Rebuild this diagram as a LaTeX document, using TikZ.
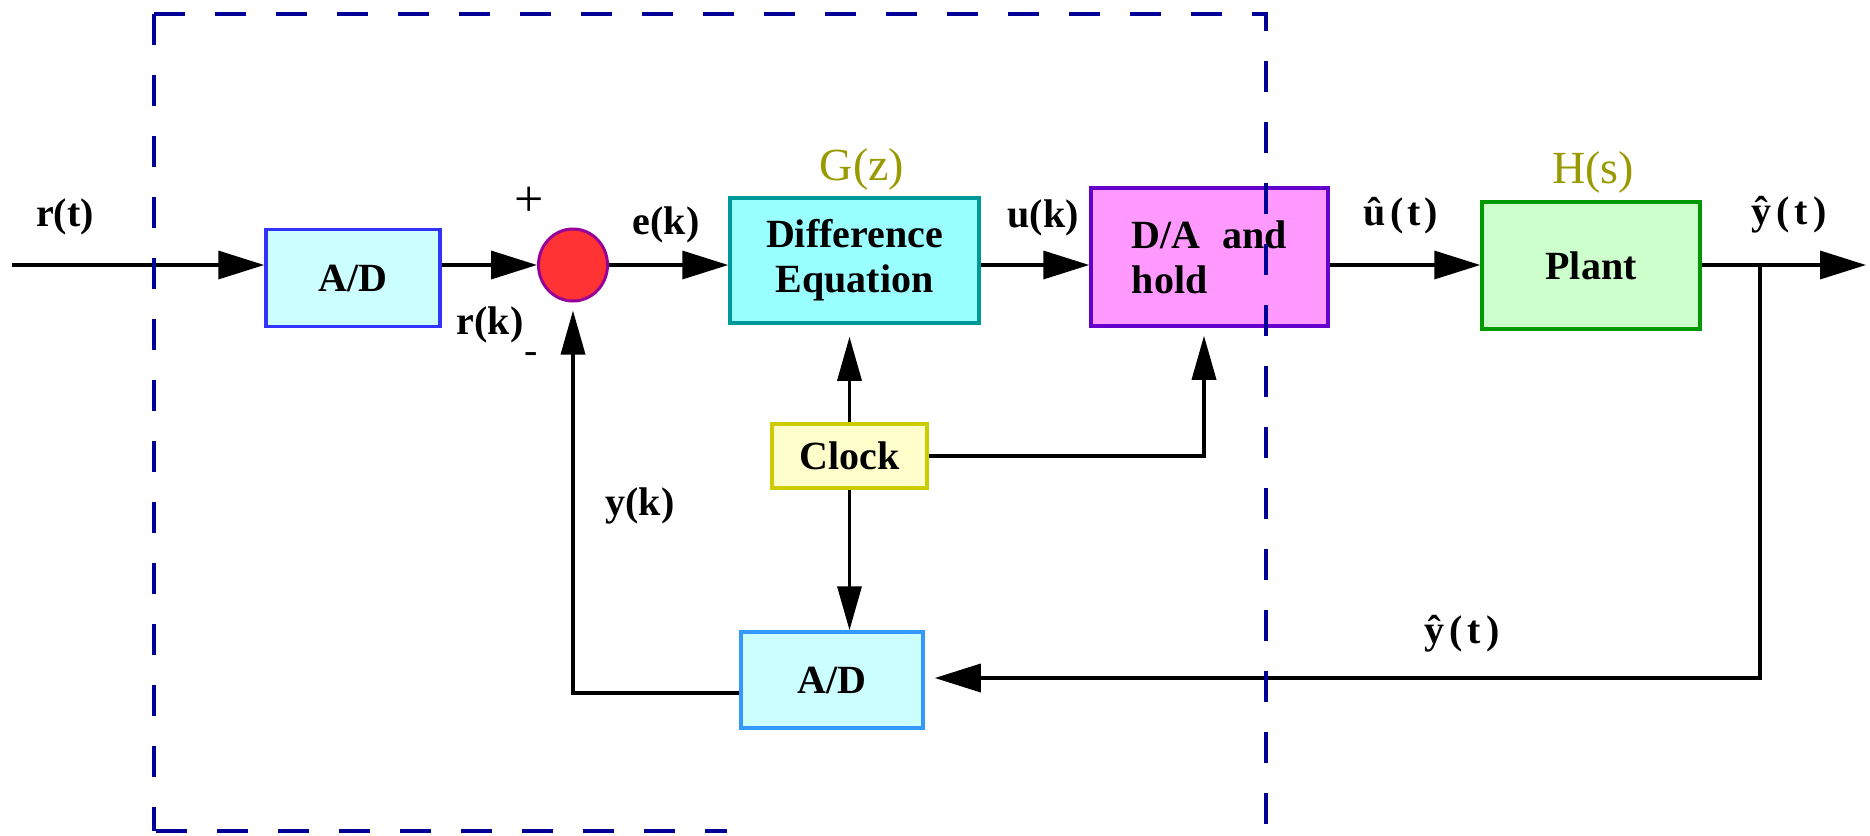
\documentclass[tikz,border=0pt]{standalone}
\usepackage{fontspec}
\setmainfont{Liberation Serif}
\usetikzlibrary{arrows.meta,shapes.geometric}
\definecolor{adfill}{HTML}{CCFFFF}
\definecolor{adborder}{HTML}{3333FF}
\definecolor{adborderb}{HTML}{3399FF}
\definecolor{sumred}{HTML}{FF3333}
\definecolor{sumborder}{HTML}{990099}
\definecolor{difffill}{HTML}{99FFFF}
\definecolor{diffborder}{HTML}{009999}
\definecolor{dafill}{HTML}{FF99FF}
\definecolor{daborder}{HTML}{6600CC}
\definecolor{plantfill}{HTML}{CCFFCC}
\definecolor{plantborder}{HTML}{009900}
\definecolor{clockfill}{HTML}{FFFFCC}
\definecolor{clockborder}{HTML}{CCCC00}
\definecolor{olive}{HTML}{999900}
\definecolor{navy}{HTML}{000099}
\tikzset{
  arr/.style={-{Triangle[length=46pt,width=28pt]}, line width=3.5pt, black},
  varr/.style={-{Triangle[length=44pt,width=24pt]}, line width=3.5pt, black},
  blk/.style={rectangle, inner sep=0pt, line width=3.5pt, font=\fontsize{40}{45}\selectfont\bfseries},
  lbl/.style={inner sep=0pt, font=\fontsize{40}{45}\selectfont\bfseries},
  tf/.style={inner sep=0pt, text=olive, font=\fontsize{46}{50}\selectfont},
  dashbox/.style={draw=navy, line width=3.5pt, dash pattern=on 31pt off 30pt}
}
\begin{document}
\begin{tikzpicture}[x=1pt,y=-1pt]
\useasboundingbox[fill=white] (0,0) rectangle (1870,835);

% blocks
\node[ellipse, fill=sumred, draw=sumborder, line width=3pt, minimum width=69pt, minimum height=72pt, inner sep=0pt] (sum) at (573,265) {};
\node[blk, fill=adfill, draw=adborder, minimum width=174pt, minimum height=97pt] (ad1) at (353,278) {A/D};
\node[blk, fill=difffill, draw=diffborder, minimum width=249pt, minimum height=125pt, align=center] (diff) at (854.5,260.5) {Difference\\Equation};
\node[blk, fill=dafill, draw=daborder, minimum width=237pt, minimum height=138pt, align=left] (da) at (1209.5,257) {D/A\hspace{0.55em}and\\hold};
\node[blk, fill=plantfill, draw=plantborder, minimum width=218pt, minimum height=127pt] (plant) at (1591,265.5) {Plant};
\node[blk, fill=adfill, draw=adborderb, minimum width=182pt, minimum height=96pt] (ad2) at (832,680) {A/D};
\node[blk, fill=clockfill, draw=clockborder, minimum width=155pt, minimum height=64pt] (clock) at (849.5,456) {Clock};

% coordinates
\coordinate (rin) at (12,265);
\coordinate (yout) at (1866,265);
\coordinate (br) at (1760,265);
\coordinate (fbc) at (1760,678);
\coordinate (ykc) at (573,693);
\coordinate (clkc) at (1204,456);

% connectors
\draw[arr] (rin) -- (rin -| ad1.west);
\draw[arr] (ad1.east |- rin) -- (sum.west);
\draw[arr] (sum.east) -- (sum.east -| diff.west);
\draw[arr] (diff.east |- rin) -- (da.west |- rin);
\draw[arr] (da.east |- rin) -- (plant.west |- rin);
\draw[arr] (plant.east |- rin) -- (yout);
\draw[arr, shorten >=10pt] (br) -- (fbc) -- (fbc -| ad2.east);
\draw[varr, shorten >=8pt] (ad2.west |- ykc) -- (ykc) -- (sum.south);
\draw[varr, shorten >=12pt] (clock.north) -- (clock.north |- diff.south);
\draw[varr] (clock.south) -- (clock.south |- ad2.north);
\draw[varr, shorten >=8pt] (clock.east) -- (clkc) -- (clkc |- da.south);

% labels
\node[lbl] (lrt) at (65,217) {r(t)};
\node[inner sep=0pt, font=\fontsize{52}{56}\selectfont] (lplus) at (529,202) {+};
\node[lbl] (lrk) at (490,325) {r(k)};
\node[inner sep=0pt, font=\fontsize{40}{45}\selectfont] (lminus) at (531,358) {-};
\node[lbl] (lek) at (666,225) {e(k)};
\node[tf] (lgz) at (862,169) {G(z)};
\node[lbl] (luk) at (1043,218) {u(k)};
\node[lbl] (lut) at (1401,216) {û\kern4pt(\kern4pt t\kern4pt)};
\node[tf] (lhs) at (1593,172) {H(s)};
\node[lbl] (lyt) at (1789,215) {ŷ\kern5pt(\kern5pt t\kern5pt)};
\node[lbl] (lyk) at (640,506) {y(k)};
\node[lbl] (lyt2) at (1462,634) {ŷ\kern5pt(\kern5pt t\kern5pt)};

% dashed boundary
\draw[dashbox] (154,14) -- (154,831);
\draw[dashbox] (154,14) -- (1266,14) -- (1266,831);
\draw[dashbox] (156,831) -- (727,831);
\end{tikzpicture}
\end{document}
